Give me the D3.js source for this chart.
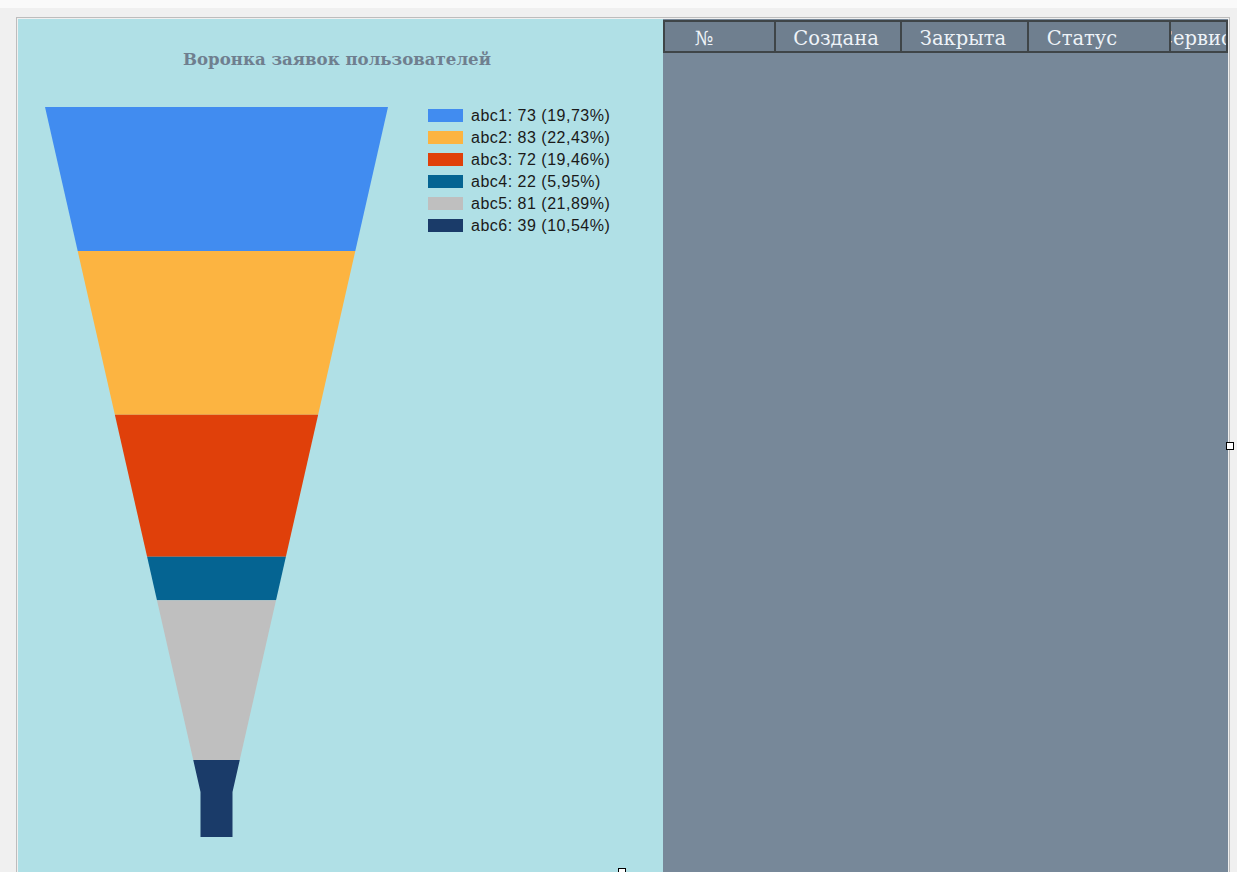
<!DOCTYPE html>
<html>
<head>
<meta charset="utf-8">
<script src="https://cdn.jsdelivr.net/npm/d3@7"></script>
<style>
  html, body { margin: 0; padding: 0; background: #f0f0f0; }
  #chart { width: 1237px; height: 872px; }
</style>
</head>
<body>
<div id="chart"></div>
<script>
// data
var categories = ["abc1", "abc2", "abc3", "abc4", "abc5", "abc6"];
var values = [73, 83, 72, 22, 81, 39];
var columns = ["№", "Создана", "Закрыта", "Статус", "Сервис"];
var chartTitle = "Воронка заявок пользователей";

// BrightPastel palette
var colors = ["#418cf0", "#fcb441", "#e0400a", "#056492", "#bfbfbf", "#1a3b69"];

var canvasWidth = 1237;
var canvasHeight = 872;

var svg = d3.select("#chart").append("svg")
    .attr("width", canvasWidth)
    .attr("height", canvasHeight)

// window background
svg.append("rect").attr("x", 0).attr("y", 0).attr("width", canvasWidth).attr("height", canvasHeight).attr("fill", "#f0f0f0")
svg.append("rect").attr("x", 0).attr("y", 0).attr("width", canvasWidth).attr("height", 8).attr("fill", "#fafafa")

// chart panel
svg.append("rect").attr("x", 18).attr("y", 19).attr("width", 646).attr("height", canvasHeight - 19).attr("fill", "#b0e0e6")
// grid panel
svg.append("rect").attr("x", 663).attr("y", 19).attr("width", 565).attr("height", canvasHeight - 19).attr("fill", "#778899")

// dotted designer border
svg.append("rect")
    .attr("x", 16.5).attr("y", 17.5)
    .attr("width", 1213).attr("height", canvasHeight)
    .attr("fill", "none")
    .attr("stroke", "#8a8a8a")
    .attr("stroke-dasharray", "1,1")

// title
svg.append("text")
    .attr("x", 337)
    .attr("y", 65)
    .attr("text-anchor", "middle")
    .attr("font-family", "DejaVu Serif")
    .attr("font-weight", "bold")
    .attr("font-size", "16px")
    .attr("fill", "#6f7f8f")
    .attr("textLength", 308)
    .attr("lengthAdjust", "spacingAndGlyphs")
    .text(chartTitle)

// funnel
var total = d3.sum(values);
var cx = 216.5;
var funnelTop = 107, funnelBottom = 837, neckTop = 792;

var yScale = d3.scaleLinear().domain([0, total]).range([funnelTop, funnelBottom]);
var halfW = d3.scaleLinear().domain([funnelTop, neckTop]).range([171.5, 16]).clamp(true);

var cum = 0;
var segs = values.map(function(v, i) {
    var s = { name: categories[i], value: v, y0: yScale(cum), y1: yScale(cum + v), color: colors[i] };
    cum += v;
    return s;
});

function segPath(d) {
    var left = [[cx - halfW(d.y0), d.y0]];
    var right = [[cx + halfW(d.y0), d.y0]];
    if (d.y0 < neckTop && d.y1 > neckTop) {
        left.push([cx - halfW(neckTop), neckTop]);
        right.push([cx + halfW(neckTop), neckTop]);
    }
    left.push([cx - halfW(d.y1), d.y1]);
    right.push([cx + halfW(d.y1), d.y1]);
    var pts = right.concat(left.reverse());
    return "M" + pts.map(function(p) { return p[0] + "," + p[1]; }).join("L") + "Z";
}

svg.append("g").selectAll("path")
    .data(segs)
    .enter().append("path")
    .attr("d", segPath)
    .attr("fill", function(d) { return d.color; })

// legend
var fmt = function(v) { return (v / total * 100).toFixed(2).replace(".", ","); };
var legend = svg.append("g").attr("transform", "translate(428, 109)")
var rows = legend.selectAll("g")
    .data(segs)
    .enter().append("g")
    .attr("transform", function(d, i) { return "translate(0," + (i * 22) + ")"; })
rows.append("rect")
    .attr("width", 35).attr("height", 13)
    .attr("fill", function(d) { return d.color; })
rows.append("text")
    .attr("x", 43)
    .attr("y", 12)
    .attr("font-family", "Liberation Sans, Arial")
    .attr("font-size", "16px")
    .attr("letter-spacing", "0.5px")
    .attr("fill", "#1a1a1a")
    .text(function(d) { return d.name + ": " + d.value + " (" + fmt(d.value) + "%)"; })

// grid header
var colEdges = [664, 775, 901, 1028, 1170, 1227];
var textX = [704, 836, 963, 1082, 1158];
var header = svg.append("g")
svg.append("clipPath").attr("id", "hdrClip")
    .append("rect").attr("x", 1171).attr("y", 20).attr("width", 55).attr("height", 32)
columns.forEach(function(c, i) {
    header.append("rect")
        .attr("x", colEdges[i]).attr("y", 21)
        .attr("width", colEdges[i + 1] - colEdges[i]).attr("height", 31)
        .attr("fill", "#6f7f8f")
        .attr("stroke", "#3f4548")
        .attr("stroke-width", 2)
    header.append("text")
        .attr("x", textX[i])
        .attr("y", 45)
        .attr("text-anchor", i == columns.length - 1 ? "start" : "middle")
        .attr("clip-path", i == columns.length - 1 ? "url(#hdrClip)" : null)
        .attr("font-family", "DejaVu Serif")
        .attr("font-size", "19.5px")
        .attr("fill", "#eef3f8")
        .text(c)
})

// resize handles
svg.append("rect").attr("x", 1226.5).attr("y", 442.5).attr("width", 7).attr("height", 7)
    .attr("fill", "white").attr("stroke", "black")
svg.append("rect").attr("x", 618.5).attr("y", 868.5).attr("width", 7).attr("height", 7)
    .attr("fill", "white").attr("stroke", "black")
</script>
</body>
</html>
